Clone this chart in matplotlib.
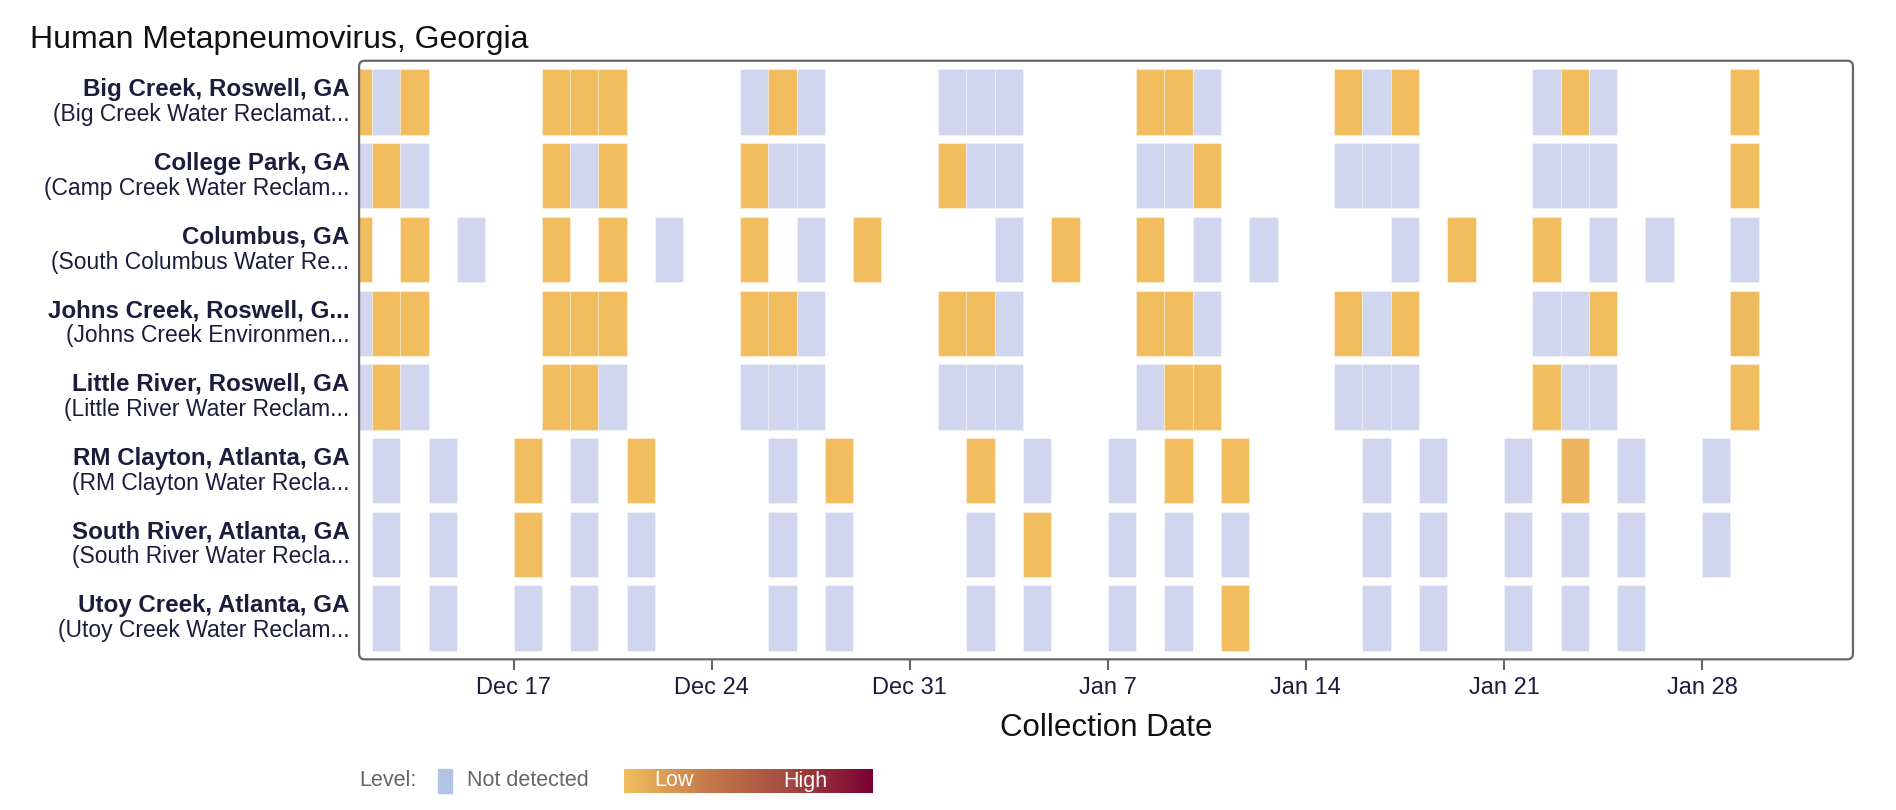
import matplotlib
matplotlib.use("Agg")
import matplotlib.pyplot as plt
import matplotlib.dates as mdates
from matplotlib.colors import LinearSegmentedColormap, Normalize
from matplotlib.patches import FancyBboxPatch
from matplotlib.transforms import blended_transform_factory
import numpy as np
import pandas as pd

plt.rcParams['font.family'] = ['Liberation Sans', 'DejaVu Sans']

# sites (bold line) and facilities (second line)
sites = ['Big Creek, Roswell, GA', 'College Park, GA', 'Columbus, GA',
         'Johns Creek, Roswell, G...', 'Little River, Roswell, GA',
         'RM Clayton, Atlanta, GA', 'South River, Atlanta, GA',
         'Utoy Creek, Atlanta, GA']
facilities = ['(Big Creek Water Reclamat...', '(Camp Creek Water Reclam...',
              '(South Columbus Water Re...', '(Johns Creek Environmen...',
              '(Little River Water Reclam...', '(RM Clayton Water Recla...',
              '(South River Water Recla...', '(Utoy Creek Water Reclam...']

# sample dates per site, and level (0 = not detected)
big_creek_dates = ['2024-12-11', '2024-12-12', '2024-12-13', '2024-12-18', '2024-12-19',
                   '2024-12-20', '2024-12-25', '2024-12-26', '2024-12-27', '2025-01-01',
                   '2025-01-02', '2025-01-03', '2025-01-08', '2025-01-09', '2025-01-10',
                   '2025-01-15', '2025-01-16', '2025-01-17', '2025-01-22', '2025-01-23',
                   '2025-01-24', '2025-01-29']
big_creek_levels = [0.005, 0, 0.005, 0.005, 0.005, 0.005, 0, 0.005, 0, 0, 0, 0,
                    0.005, 0.005, 0, 0.005, 0, 0.005, 0, 0.005, 0, 0.005]

college_park_dates = big_creek_dates
college_park_levels = [0, 0.005, 0, 0.005, 0, 0.005, 0.005, 0, 0, 0.005, 0, 0,
                       0, 0, 0.005, 0, 0, 0, 0, 0, 0, 0.005]

columbus_dates = ['2024-12-11', '2024-12-13', '2024-12-15', '2024-12-18', '2024-12-20',
                  '2024-12-22', '2024-12-25', '2024-12-27', '2024-12-29', '2025-01-03',
                  '2025-01-05', '2025-01-08', '2025-01-10', '2025-01-12', '2025-01-17',
                  '2025-01-19', '2025-01-22', '2025-01-24', '2025-01-26', '2025-01-29']
columbus_levels = [0.005, 0.005, 0, 0.005, 0.005, 0, 0.005, 0, 0.005, 0,
                   0.005, 0.005, 0, 0, 0, 0.005, 0.005, 0, 0, 0]

johns_creek_dates = big_creek_dates
johns_creek_levels = [0, 0.005, 0.005, 0.005, 0.005, 0.005, 0.005, 0.005, 0, 0.005, 0.005, 0,
                      0.005, 0.005, 0, 0.005, 0, 0.005, 0, 0, 0.005, 0.02]

little_river_dates = big_creek_dates
little_river_levels = [0, 0.005, 0, 0.005, 0.005, 0, 0, 0, 0, 0, 0, 0,
                       0, 0.005, 0.005, 0, 0, 0, 0.005, 0, 0, 0.005]

rm_clayton_dates = ['2024-12-12', '2024-12-14', '2024-12-17', '2024-12-19', '2024-12-21',
                    '2024-12-26', '2024-12-28', '2025-01-02', '2025-01-04', '2025-01-07',
                    '2025-01-09', '2025-01-11', '2025-01-16', '2025-01-18', '2025-01-21',
                    '2025-01-23', '2025-01-25', '2025-01-28']
rm_clayton_levels = [0, 0, 0.005, 0, 0.005, 0, 0.005, 0.005, 0, 0,
                     0.005, 0.005, 0, 0, 0, 0.05, 0, 0]

south_river_dates = rm_clayton_dates
south_river_levels = [0, 0, 0.005, 0, 0, 0, 0, 0, 0.005, 0,
                      0, 0, 0, 0, 0, 0, 0, 0]

utoy_creek_dates = rm_clayton_dates[:17]
utoy_creek_levels = [0, 0, 0, 0, 0, 0, 0, 0, 0, 0,
                     0, 0.005, 0, 0, 0, 0, 0]

site_dates = [big_creek_dates, college_park_dates, columbus_dates, johns_creek_dates,
              little_river_dates, rm_clayton_dates, south_river_dates, utoy_creek_dates]
site_levels = [big_creek_levels, college_park_levels, columbus_levels, johns_creek_levels,
               little_river_levels, rm_clayton_levels, south_river_levels, utoy_creek_levels]

tick_dates = pd.date_range('2024-12-17', '2025-01-28', freq='7D')

# colours
nd_color = '#cfd6ed'
level_cmap = LinearSegmentedColormap.from_list(
    'level', ['#f2be5f', '#c57a4a', '#a24a40', '#7a0032'])
norm = Normalize(0, 1)
label_color = '#1c1c3c'
frame_color = '#666666'

fig = plt.figure(figsize=(18.96, 8.10), dpi=100)
ax = fig.add_axes([0.1894, 0.186, 0.7879, 0.739])

cell_h = 0.885
for row, (dates, levels) in enumerate(zip(site_dates, site_levels)):
    x = mdates.date2num(pd.to_datetime(dates))
    colors = [nd_color if lv == 0 else level_cmap(norm(lv)) for lv in levels]
    ax.bar(x, cell_h, width=1, bottom=row - cell_h / 2, align='edge',
           color=colors, edgecolor=(1, 1, 1, 0.35), linewidth=0.8)

ax.set_xlim(mdates.date2num(pd.Timestamp('2024-12-11 13:00')),
            mdates.date2num(pd.Timestamp('2025-02-02 08:00')))
ax.set_ylim(len(sites) - 0.5 + 0.06, -0.5 - 0.06)

ax.set_xticks(mdates.date2num(tick_dates))
ax.set_xticklabels([f"{d:%b} {d.day}" for d in tick_dates])
ax.tick_params(axis='x', length=8, width=1.5, color=frame_color,
               labelsize=17, labelcolor=label_color, pad=5)
ax.set_yticks([])
ax.set_xlabel('Collection Date', fontsize=22.5, color='#111111', labelpad=10)

for s in ax.spines.values():
    s.set_visible(False)

# rounded frame
frame = FancyBboxPatch((0.1894, 0.186), 0.7879, 0.739, transform=fig.transFigure,
                       boxstyle='round,pad=0,rounding_size=0.003',
                       mutation_aspect=1896 / 810, fill=False,
                       edgecolor=frame_color, linewidth=1.6, zorder=5)
fig.patches.append(frame)

# two-line y labels
trans = blended_transform_factory(ax.transAxes, ax.transData)
for row, (site, fac) in enumerate(zip(sites, facilities)):
    ax.text(-0.0065, row - 0.17, site, transform=trans, ha='right', va='center',
            fontsize=17.4, fontweight='bold', color=label_color)
    ax.text(-0.0065, row + 0.17, fac, transform=trans, ha='right', va='center',
            fontsize=16.5, color=label_color)

fig.text(0.016, 0.951, 'Human Metapneumovirus, Georgia', fontsize=23,
         color='#111111', ha='left', va='center')

# legend
fig.text(0.1894, 0.036, 'Level:', fontsize=15.5, color='#666666', ha='left', va='center')
fig.patches.append(plt.Rectangle((438 / 1896, 17 / 810), 14 / 1896, 24 / 810,
                                 transform=fig.transFigure, color='#b3c3e5'))
fig.text(467 / 1896, 0.036, 'Not detected', fontsize=15.5, color='#666666',
         ha='left', va='center')
cax = fig.add_axes([624 / 1896, 17 / 810, 249 / 1896, 24 / 810])
cax.imshow(np.linspace(0, 1, 256)[None, :], aspect='auto', cmap=level_cmap,
           extent=(0, 1, 0, 1))
cax.set_axis_off()
cax.text(0.2, 0.5, 'Low', color='white', fontsize=15.5, ha='center', va='center')
cax.text(0.73, 0.5, 'High', color='white', fontsize=15.5, ha='center', va='center')

fig.savefig('out.png', dpi=100)
